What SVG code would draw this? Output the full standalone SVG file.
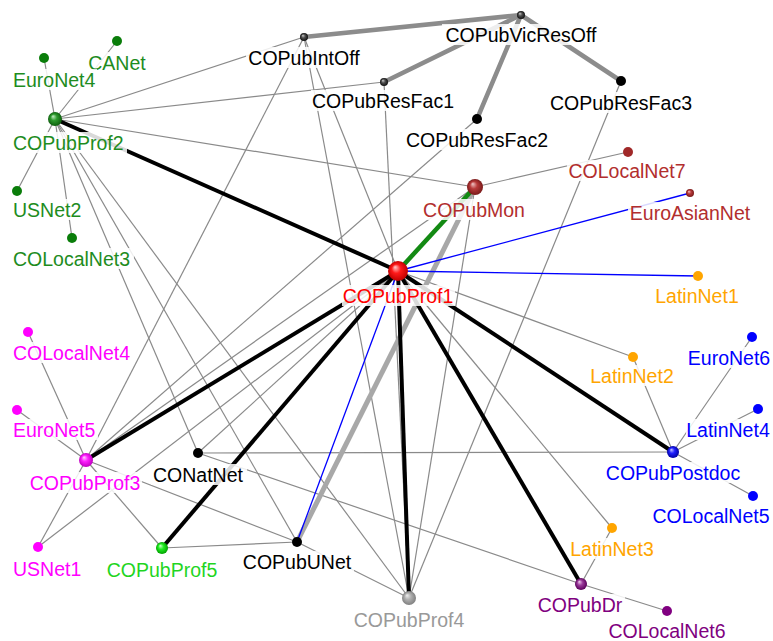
<svg xmlns="http://www.w3.org/2000/svg" width="773" height="641" viewBox="0 0 773 641">
<style>
text{font-family:"Liberation Sans",Arial,sans-serif;font-size:19.5px;text-anchor:middle}
.s{text-anchor:start}
.bg{fill:#fff;fill-opacity:0.85}
.t{stroke:#8a8a8a;stroke-width:1.2;fill:none}
.tg{stroke:#8c8c8c;stroke-width:4.5;fill:none;stroke-linecap:round}
.tl{stroke:#a8a8a8;stroke-width:5;fill:none}
.k{stroke:#000;stroke-width:4;fill:none}
.gr{stroke:#138a13;stroke-width:4.5;fill:none}
.b{stroke:#0000ff;stroke-width:1.3;fill:none}
.cg{fill:#1e8c1e}.ck{fill:#000}.cr{fill:#ff0000}.cb{fill:#b22e2e}.cm{fill:#ff00ff}
.cl{fill:#1fd51f}.cy{fill:#999}.co{fill:#ffa500}.cu{fill:#0000ff}.cp{fill:#800080}
</style>
<defs>
<radialGradient id="gRed" cx="0.5" cy="0.5" r="0.5" fx="0.35" fy="0.3"><stop offset="0" stop-color="#ffd0d0"/><stop offset="0.45" stop-color="#ff1a1a"/><stop offset="1" stop-color="#c00000"/></radialGradient>
<radialGradient id="gGreen" cx="0.5" cy="0.5" r="0.5" fx="0.35" fy="0.3"><stop offset="0" stop-color="#c8f0c8"/><stop offset="0.45" stop-color="#2e9a2e"/><stop offset="1" stop-color="#0d5e0d"/></radialGradient>
<radialGradient id="gMag" cx="0.5" cy="0.5" r="0.5" fx="0.35" fy="0.3"><stop offset="0" stop-color="#ffd0ff"/><stop offset="0.45" stop-color="#ff20ff"/><stop offset="1" stop-color="#c000c0"/></radialGradient>
<radialGradient id="gGray" cx="0.5" cy="0.5" r="0.5" fx="0.35" fy="0.3"><stop offset="0" stop-color="#f0f0f0"/><stop offset="0.45" stop-color="#b0b0b0"/><stop offset="1" stop-color="#808080"/></radialGradient>
<radialGradient id="gLime" cx="0.5" cy="0.5" r="0.5" fx="0.35" fy="0.3"><stop offset="0" stop-color="#d0ffd0"/><stop offset="0.45" stop-color="#22ee22"/><stop offset="1" stop-color="#00a000"/></radialGradient>
<radialGradient id="gBrown" cx="0.5" cy="0.5" r="0.5" fx="0.35" fy="0.3"><stop offset="0" stop-color="#f0c8c8"/><stop offset="0.45" stop-color="#b83a3a"/><stop offset="1" stop-color="#7a1a1a"/></radialGradient>
<radialGradient id="gBlue" cx="0.5" cy="0.5" r="0.5" fx="0.35" fy="0.3"><stop offset="0" stop-color="#c8c8ff"/><stop offset="0.45" stop-color="#2020ff"/><stop offset="1" stop-color="#0000a0"/></radialGradient>
<radialGradient id="gPurp" cx="0.5" cy="0.5" r="0.5" fx="0.35" fy="0.3"><stop offset="0" stop-color="#f0d0f0"/><stop offset="0.45" stop-color="#9a3a9a"/><stop offset="1" stop-color="#5a005a"/></radialGradient>
<radialGradient id="gDark" cx="0.5" cy="0.5" r="0.5" fx="0.35" fy="0.3"><stop offset="0" stop-color="#d0d0d0"/><stop offset="0.45" stop-color="#505050"/><stop offset="1" stop-color="#101010"/></radialGradient>
</defs>
<g id="connectors">
<line class="t" x1="55" y1="119" x2="44" y2="58"/>
<line class="t" x1="55" y1="119" x2="117" y2="41"/>
<line class="t" x1="55" y1="119" x2="17" y2="191"/>
<line class="t" x1="55" y1="119" x2="72" y2="238"/>
<line class="t" x1="55" y1="119" x2="304" y2="37"/>
<line class="t" x1="55" y1="119" x2="384" y2="82"/>
<line class="t" x1="55" y1="119" x2="475" y2="187"/>
<line class="t" x1="55" y1="119" x2="198" y2="453"/>
<line class="t" x1="55" y1="119" x2="297" y2="542"/>
<line class="t" x1="55" y1="119" x2="409" y2="598"/>
<line class="t" x1="304" y1="37" x2="86" y2="460"/>
<line class="t" x1="304" y1="37" x2="409" y2="598"/>
<line class="t" x1="304" y1="37" x2="398" y2="271"/>
<line class="t" x1="384" y1="82" x2="409" y2="598"/>
<line class="t" x1="477" y1="119" x2="86" y2="460"/>
<line class="t" x1="621" y1="81" x2="409" y2="598"/>
<line class="t" x1="475" y1="187" x2="628" y2="152"/>
<line class="t" x1="475" y1="187" x2="409" y2="598"/>
<line class="t" x1="475" y1="187" x2="86" y2="460"/>
<line class="t" x1="86" y1="460" x2="28" y2="332"/>
<line class="t" x1="86" y1="460" x2="17" y2="410"/>
<line class="t" x1="86" y1="460" x2="38" y2="547"/>
<line class="t" x1="86" y1="460" x2="162" y2="548"/>
<line class="t" x1="86" y1="460" x2="297" y2="542"/>
<line class="t" x1="38" y1="547" x2="398" y2="271"/>
<line class="t" x1="198" y1="453" x2="398" y2="271"/>
<line class="t" x1="198" y1="453" x2="673" y2="452"/>
<line class="t" x1="198" y1="453" x2="581" y2="584"/>
<line class="t" x1="162" y1="548" x2="297" y2="542"/>
<line class="t" x1="297" y1="542" x2="409" y2="598"/>
<line class="t" x1="398" y1="271" x2="633" y2="357"/>
<line class="t" x1="398" y1="271" x2="612" y2="528"/>
<line class="t" x1="633" y1="357" x2="673" y2="452"/>
<line class="t" x1="752" y1="337" x2="673" y2="452"/>
<line class="t" x1="758" y1="409" x2="673" y2="452"/>
<line class="t" x1="753" y1="496" x2="673" y2="452"/>
<line class="t" x1="612" y1="528" x2="581" y2="584"/>
<line class="t" x1="667" y1="611" x2="581" y2="584"/>
<line class="tg" x1="304" y1="37" x2="521" y2="15"/>
<line class="tg" x1="521" y1="15" x2="384" y2="82"/>
<line class="tg" x1="521" y1="15" x2="477" y2="119"/>
<line class="tg" x1="521" y1="15" x2="621" y2="81"/>
<line class="tl" x1="475" y1="187" x2="297" y2="542"/>
<line class="b" x1="398" y1="271" x2="690" y2="193"/>
<line class="b" x1="398" y1="271" x2="698" y2="276"/>
<line class="b" x1="398" y1="271" x2="297" y2="542"/>
<line class="k" x1="55" y1="119" x2="398" y2="271"/>
<line class="k" x1="398" y1="271" x2="86" y2="460"/>
<line class="k" x1="398" y1="271" x2="162" y2="548"/>
<line class="k" x1="398" y1="271" x2="409" y2="598"/>
<line class="k" x1="398" y1="271" x2="581" y2="584"/>
<line class="k" x1="398" y1="271" x2="673" y2="452"/>
<line class="gr" x1="398" y1="271" x2="475" y2="187"/>
</g>
<g id="COPubVicResOff"><circle cx="521" cy="15" r="4" fill="url(#gDark)"/><rect class="bg" x="442" y="24" width="158" height="21"/><text class="ck" x="521" y="42">COPubVicResOff</text></g>
<g id="COPubIntOff"><circle cx="304" cy="37" r="4" fill="url(#gDark)"/><rect class="bg" x="246" y="47" width="116" height="21"/><text class="ck" x="304" y="65">COPubIntOff</text></g>
<g id="COPubResFac1"><circle cx="384" cy="82" r="4" fill="url(#gDark)"/><rect class="bg" x="311" y="90" width="145" height="21"/><text class="ck" x="383" y="108">COPubResFac1</text></g>
<g id="COPubResFac2"><circle cx="477" cy="119" r="5" fill="#000"/><rect class="bg" x="404" y="129" width="147" height="21"/><text class="ck" x="477" y="147">COPubResFac2</text></g>
<g id="COPubResFac3"><circle cx="621" cy="81" r="5" fill="#000"/><rect class="bg" x="547" y="92" width="149" height="21"/><text class="ck" x="621" y="110">COPubResFac3</text></g>
<g id="COLocalNet7"><circle cx="628" cy="152" r="5" fill="#a02828"/><rect class="bg" x="567" y="160" width="121" height="21"/><text class="cb" x="627" y="178">COLocalNet7</text></g>
<g id="COPubMon"><circle cx="475" cy="187" r="8" fill="url(#gBrown)"/><rect class="bg" x="421" y="199" width="107" height="21"/><text class="cb" x="474" y="217">COPubMon</text></g>
<g id="EuroAsianNet"><circle cx="690" cy="193" r="4" fill="url(#gBrown)"/><rect class="bg" x="628" y="202" width="125" height="21"/><text class="cb" x="690" y="220">EuroAsianNet</text></g>
<g id="COPubProf1"><rect class="bg" x="342" y="285" width="113" height="21"/><circle cx="398" cy="271" r="10" fill="url(#gRed)"/><text class="cr" x="398" y="303">COPubProf1</text></g>
<g id="LatinNet1"><circle cx="698" cy="276" r="5" fill="#ffa500"/><rect class="bg" x="656" y="285" width="84" height="21"/><text class="co" x="697" y="303">LatinNet1</text></g>
<g id="COPubProf2"><circle cx="55" cy="119" r="7" fill="url(#gGreen)"/><rect class="bg" x="12" y="132" width="115" height="21"/><text class="cg s" x="13" y="150">COPubProf2</text></g>
<g id="CANet"><circle cx="117" cy="41" r="5" fill="#0a7d0a"/><rect class="bg" x="87" y="52" width="61" height="21"/><text class="cg" x="117" y="70">CANet</text></g>
<g id="EuroNet4"><circle cx="44" cy="58" r="5" fill="#0a7d0a"/><rect class="bg" x="12" y="69" width="85" height="21"/><text class="cg s" x="13" y="87">EuroNet4</text></g>
<g id="USNet2"><circle cx="17" cy="191" r="5" fill="#0a7d0a"/><rect class="bg" x="12" y="199" width="72" height="21"/><text class="cg s" x="13" y="217">USNet2</text></g>
<g id="COLocalNet3"><circle cx="72" cy="238" r="5" fill="#0a7d0a"/><rect class="bg" x="12" y="248" width="122" height="21"/><text class="cg s" x="13" y="266">COLocalNet3</text></g>
<g id="COLocalNet4"><circle cx="28" cy="332" r="5" fill="#ff00ff"/><rect class="bg" x="12" y="342" width="122" height="21"/><text class="cm s" x="13" y="360">COLocalNet4</text></g>
<g id="EuroNet5"><circle cx="17" cy="410" r="5" fill="#ff00ff"/><rect class="bg" x="12" y="419" width="86" height="21"/><text class="cm s" x="13" y="437">EuroNet5</text></g>
<g id="COPubProf3"><circle cx="86" cy="460" r="7" fill="url(#gMag)"/><rect class="bg" x="28" y="472" width="114" height="21"/><text class="cm" x="85" y="490">COPubProf3</text></g>
<g id="USNet1"><circle cx="38" cy="547" r="5" fill="#ff00ff"/><rect class="bg" x="12" y="558" width="70" height="21"/><text class="cm s" x="13" y="576">USNet1</text></g>
<g id="COPubProf5"><circle cx="162" cy="548" r="6" fill="url(#gLime)"/><rect class="bg" x="105" y="559" width="115" height="21"/><text class="cl" x="162" y="577">COPubProf5</text></g>
<g id="CONatNet"><circle cx="198" cy="453" r="5" fill="#000"/><rect class="bg" x="151" y="464" width="96" height="21"/><text class="ck" x="198" y="482">CONatNet</text></g>
<g id="COPubUNet"><circle cx="297" cy="542" r="5" fill="#000"/><rect class="bg" x="241" y="551" width="113" height="21"/><text class="ck" x="297" y="569">COPubUNet</text></g>
<g id="COPubProf4"><circle cx="409" cy="598" r="7" fill="url(#gGray)"/><rect class="bg" x="352" y="609" width="115" height="21"/><text class="cy" x="409" y="627">COPubProf4</text></g>
<g id="COPubPostdoc"><circle cx="673" cy="452" r="6" fill="url(#gBlue)"/><rect class="bg" x="604" y="462" width="140" height="21"/><text class="cu" x="673" y="480">COPubPostdoc</text></g>
<g id="LatinNet2"><circle cx="633" cy="357" r="5" fill="#ffa500"/><rect class="bg" x="589" y="365" width="88" height="21"/><text class="co" x="632" y="383">LatinNet2</text></g>
<g id="EuroNet6"><circle cx="752" cy="337" r="5" fill="#0000ff"/><rect class="bg" x="687" y="347" width="85" height="21"/><text class="cu" x="729" y="365">EuroNet6</text></g>
<g id="LatinNet4"><circle cx="758" cy="409" r="5" fill="#0000ff"/><rect class="bg" x="686" y="419" width="86" height="21"/><text class="cu" x="728" y="437">LatinNet4</text></g>
<g id="COLocalNet5"><circle cx="753" cy="496" r="5" fill="#0000ff"/><rect class="bg" x="651" y="505" width="121" height="21"/><text class="cu" x="711" y="523">COLocalNet5</text></g>
<g id="LatinNet3"><circle cx="612" cy="528" r="5" fill="#ffa500"/><rect class="bg" x="569" y="538" width="88" height="21"/><text class="co" x="612" y="556">LatinNet3</text></g>
<g id="COPubDr"><circle cx="581" cy="584" r="6" fill="url(#gPurp)"/><rect class="bg" x="537" y="594" width="88" height="21"/><text class="cp" x="580" y="612">COPubDr</text></g>
<g id="COLocalNet6"><circle cx="667" cy="611" r="5" fill="#800080"/><rect class="bg" x="607" y="620" width="122" height="21"/><text class="cp" x="667" y="638">COLocalNet6</text></g>
</svg>
